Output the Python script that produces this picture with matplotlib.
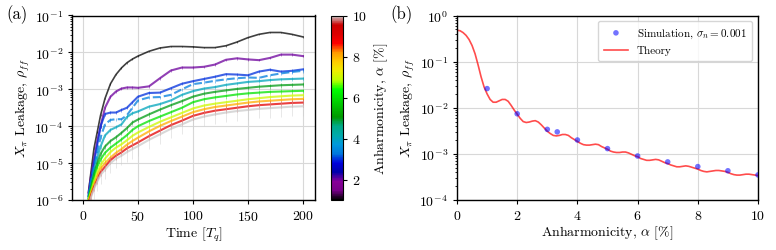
import numpy as np
import matplotlib
matplotlib.use("Agg")
import matplotlib.pyplot as plt
from matplotlib.colors import Normalize

plt.rcParams['font.family'] = 'serif'
plt.rcParams['font.serif'] = ['cmr10']
plt.rcParams['mathtext.fontset'] = 'cm'
plt.rcParams['axes.formatter.use_mathtext'] = True
plt.rcParams['font.size'] = 10

# ---------------- data: panel (a) ----------------
time_pts = [5, 7, 10, 13, 16, 20, 25, 30, 35, 40, 45, 50, 60, 70, 80, 90,
            100, 110, 120, 130, 140, 150, 160, 170, 180, 190, 200]
alphas = [1, 2, 3, 3.33, 4, 5, 6, 7, 8, 9, 10]
# log10 of leakage, one list per anharmonicity
log_leak_a1 = [-5.8, -5.3, -4.6, -4.15, -3.7, -3.25, -2.85, -2.6, -2.42, -2.28, -2.18, -2.1, -1.97, -1.88,
               -1.84, -1.84, -1.85, -1.87, -1.87, -1.82, -1.72, -1.60, -1.51, -1.46, -1.46, -1.51, -1.58]
log_leak_a2 = [-5.8, -5.4, -4.9, -4.4, -4.0, -3.5, -3.2, -3.06, -2.98, -2.95, -2.95, -2.96, -2.92, -2.70,
               -2.49, -2.41, -2.41, -2.39, -2.33, -2.20, -2.16, -2.19, -2.21, -2.15, -2.06, -2.06, -2.10]
log_leak_a3 = [-5.9, -5.5, -5.0, -4.5, -4.0, -3.67, -3.63, -3.63, -3.56, -3.50, -3.35, -3.20, -3.10, -3.09,
               -2.97, -2.85, -2.78, -2.72, -2.66, -2.59, -2.60, -2.62, -2.52, -2.47, -2.52, -2.50, -2.46]
log_leak_a333 = [-5.9, -5.5, -5.1, -4.7, -4.3, -3.95, -3.83, -3.81, -3.81, -3.70, -3.50, -3.30, -3.22, -3.21,
                 -3.15, -3.00, -2.86, -2.82, -2.77, -2.73, -2.70, -2.68, -2.69, -2.62, -2.57, -2.53, -2.50]
log_leak_a4 = [-5.9, -5.6, -5.2, -4.85, -4.55, -4.25, -4.1, -4.03, -3.95, -3.75, -3.65, -3.60, -3.47, -3.40,
               -3.30, -3.15, -3.05, -2.98, -2.94, -2.88, -2.84, -2.80, -2.78, -2.75, -2.73, -2.72, -2.71]
log_leak_a5 = [-5.95, -5.7, -5.3, -5.0, -4.75, -4.55, -4.4, -4.3, -4.18, -4.05, -3.90, -3.82, -3.68, -3.55,
               -3.43, -3.32, -3.20, -3.12, -3.07, -3.03, -2.99, -2.96, -2.93, -2.91, -2.89, -2.88, -2.87]
log_leak_a6 = [-6.0, -5.75, -5.4, -5.1, -4.9, -4.72, -4.58, -4.47, -4.36, -4.24, -4.10, -4.00, -3.86, -3.74,
               -3.62, -3.50, -3.35, -3.27, -3.22, -3.18, -3.14, -3.11, -3.09, -3.07, -3.06, -3.05, -3.04]
log_leak_a7 = [-6.0, -5.8, -5.5, -5.25, -5.05, -4.88, -4.7, -4.58, -4.49, -4.38, -4.26, -4.17, -4.02, -3.88,
               -3.76, -3.64, -3.52, -3.44, -3.39, -3.35, -3.31, -3.27, -3.24, -3.21, -3.19, -3.17, -3.16]
log_leak_a8 = [-6.05, -5.85, -5.6, -5.35, -5.15, -5.0, -4.85, -4.72, -4.62, -4.50, -4.40, -4.31, -4.14, -3.99,
               -3.86, -3.74, -3.62, -3.54, -3.48, -3.44, -3.40, -3.36, -3.33, -3.31, -3.29, -3.27, -3.26]
log_leak_a9 = [-6.1, -5.9, -5.65, -5.45, -5.25, -5.1, -4.92, -4.8, -4.71, -4.60, -4.52, -4.44, -4.27, -4.12,
               -3.97, -3.85, -3.72, -3.64, -3.58, -3.54, -3.50, -3.46, -3.43, -3.41, -3.39, -3.37, -3.36]
log_leak_a10 = [-6.15, -5.95, -5.7, -5.5, -5.32, -5.18, -5.0, -4.88, -4.8, -4.70, -4.62, -4.54, -4.37, -4.22,
                -4.07, -3.95, -3.82, -3.74, -3.68, -3.63, -3.59, -3.56, -3.53, -3.51, -3.49, -3.47, -3.46]
rel_err = [0.05, 0.08, 0.1, 0.1, 0.12, 0.15, 0.15, 0.18, 0.2, 0.22, 0.45]

curves = [log_leak_a1, log_leak_a2, log_leak_a3, log_leak_a333, log_leak_a4, log_leak_a5,
          log_leak_a6, log_leak_a7, log_leak_a8, log_leak_a9, log_leak_a10]

# ---------------- data: panel (b) ----------------
sim_alpha = [1, 2, 3, 3.33, 4, 5, 6, 7, 8, 9, 10]
sim_leak = [0.026, 0.0074, 0.0034, 0.0030, 0.0020, 0.0013, 0.00090, 0.00067, 0.00053, 0.00043, 0.00035]

theory_alpha = list(np.round(np.arange(0, 10.01, 0.1), 2))
theory_log10 = [-0.32, -0.33, -0.37, -0.43, -0.52, -0.65, -0.83, -1.07, -1.33, -1.55,
                -1.70, -1.82, -1.88, -1.88, -1.85, -1.82, -1.82, -1.86, -1.95, -2.05,
                -2.14, -2.23, -2.30, -2.32, -2.31, -2.29, -2.28, -2.31, -2.37, -2.44,
                -2.51, -2.56, -2.60, -2.61, -2.60, -2.58, -2.58, -2.60, -2.65, -2.69,
                -2.73, -2.77, -2.80, -2.81, -2.81, -2.80, -2.79, -2.80, -2.84, -2.87,
                -2.90, -2.94, -2.96, -2.97, -2.97, -2.96, -2.96, -2.98, -3.01, -3.04,
                -3.06, -3.10, -3.12, -3.14, -3.14, -3.13, -3.12, -3.13, -3.16, -3.19,
                -3.21, -3.24, -3.26, -3.28, -3.28, -3.27, -3.26, -3.27, -3.29, -3.31,
                -3.33, -3.36, -3.38, -3.39, -3.38, -3.37, -3.36, -3.36, -3.37, -3.38,
                -3.40, -3.43, -3.45, -3.46, -3.46, -3.45, -3.44, -3.44, -3.45, -3.46,
                -3.47]

# ---------------- figure ----------------
W, H = 776, 251
fig = plt.figure(figsize=(W / 100, H / 100), dpi=100)

def rect(l, r, t, b):
    return [l / W, 1 - b / H, (r - l) / W, (b - t) / H]

ax1 = fig.add_axes(rect(72, 315, 16.5, 201))
cax = fig.add_axes(rect(331, 343, 16.5, 201))
ax2 = fig.add_axes(rect(457, 758, 16.5, 201))

cmap = plt.get_cmap('nipy_spectral')
norm = Normalize(vmin=1, vmax=10)
t = np.array(time_pts)
for a, lg, re in zip(alphas, curves, rel_err):
    y = 10 ** np.array(lg)
    c = cmap(norm(a))
    ls = '--' if a == 3.33 else '-'
    ax1.errorbar(t, y, yerr=re * y, fmt='none', ecolor=c, elinewidth=0.7,
                 capsize=0, alpha=0.45)
    ax1.plot(t, y, color=c, ls=ls, lw=1.2 if a == 1 else 1.5, alpha=0.75)

ax1.set_yscale('log')
ax1.set_xlim(-10, 211)
ax1.set_ylim(1e-6, 1e-1)
ax1.set_xticks([0, 50, 100, 150, 200])
ax1.set_xlabel('Time [$T_q$]', fontsize=10, labelpad=1)
ax1.set_ylabel(r'$X_\pi$ Leakage, $\rho_{ff}$', fontsize=10, labelpad=2)
ax1.grid(True, color='#d8d8d8', lw=0.8)
ax1.set_axisbelow(True)

sm = plt.cm.ScalarMappable(norm=norm, cmap=cmap)
cb = fig.colorbar(sm, cax=cax, ticks=[2, 4, 6, 8, 10])
cb.set_label(r'Anharmonicity, $\alpha$ [%]', fontsize=10, labelpad=4)
cb.ax.tick_params(labelsize=10, length=3)

ax2.plot(theory_alpha, 10 ** np.array(theory_log10), color='red', lw=1.2, alpha=0.7,
         label='Theory', zorder=2)
ax2.scatter(sim_alpha, sim_leak, s=16, color='blue', alpha=0.55, edgecolors='none',
            label=r'Simulation, $\sigma_n = 0.001$', zorder=3)
ax2.set_yscale('log')
ax2.set_xlim(0, 10)
ax2.set_ylim(1e-4, 1)
ax2.set_xticks([0, 2, 4, 6, 8, 10])
ax2.set_xlabel(r'Anharmonicity, $\alpha$ [%]', fontsize=10, labelpad=1)
ax2.set_ylabel(r'$X_\pi$ Leakage, $\rho_{ff}$', fontsize=10, labelpad=2)
ax2.grid(True, color='#d8d8d8', lw=0.8)
ax2.set_axisbelow(True)
h, l = ax2.get_legend_handles_labels()
ax2.legend(h[::-1], l[::-1], loc='upper right', fontsize=8, frameon=True,
           fancybox=True, edgecolor='#cccccc', borderpad=0.5, handlelength=2.2)

for ax in (ax1, ax2):
    ax.tick_params(labelsize=10, length=3, width=0.8)
    ax.tick_params(which='minor', length=1.8, width=0.6)
    for s in ax.spines.values():
        s.set_linewidth(1.0)

fig.text(6 / W, 1 - 15 / H, '(a)', fontsize=12, ha='left', va='center')
fig.text(390 / W, 1 - 15 / H, '(b)', fontsize=12, ha='left', va='center')

fig.savefig('out.png', dpi=100)
